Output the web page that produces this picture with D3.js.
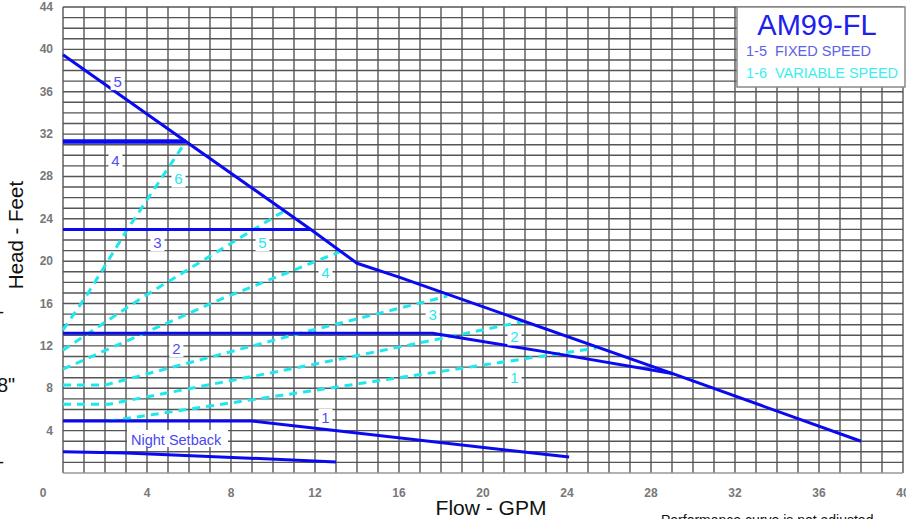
<!DOCTYPE html>
<html>
<head>
<meta charset="utf-8">
<script src="https://cdn.jsdelivr.net/npm/d3@7"></script>
<style>
  body { margin: 0; background: #fff; }
  svg text { font-family: "Liberation Sans", Arial, sans-serif; }
</style>
</head>
<body>
<svg id="chart" width="906" height="519"></svg>
<script>
// data (flow GPM, head ft)
let xTicks = [4, 8, 12, 16, 20, 24, 28, 32, 36, 40]
let yTicks = [4, 8, 12, 16, 20, 24, 28, 32, 36, 40, 44]

let fixedNames = ['5', '4', '3', '2', '1']
let fixed5 = [[0, 39.5], [5.85, 31.3], [11.8, 23], [14, 19.8], [16, 18.5], [29, 9.4], [38, 3]]
let fixed4 = [[0, 31.3], [5.85, 31.3]]
let fixed3 = [[0, 23], [11.8, 23]]
let fixed2 = [[0, 13.2], [17.6, 13.2], [23.7, 11.2], [29, 9.4]]
let fixed1 = [[0, 4.9], [9, 4.9], [24.1, 1.5]]
let nightSetback = [[0, 2], [3, 1.9], [13, 1.05]]

let varNames = ['6', '5', '4', '3', '2', '1']
let var6 = [[0, 13.5], [1.2, 17], [3, 22.8], [5.85, 31.3]]
let var5 = [[0, 11.6], [3.8, 16.6], [9, 22.9], [10.5, 24.7]]
let var4 = [[0, 9.8], [7.5, 16.4], [13.2, 20.9]]
let var3 = [[0, 8.3], [2, 8.3], [11.3, 13.2], [18.3, 16.7]]
let var2 = [[0, 6.5], [2.2, 6.5], [11.3, 10], [18.5, 12.9], [21.9, 14.3]]
let var1 = [[2.2, 4.9], [11.3, 7.6], [25.4, 11.8]]

// label anchor points (data units)
let fixedLabels = [[2.6, 37], [2.5, 29.5], [4.5, 21.8], [5.4, 11.8], [12.5, 5.2]]
let varLabels = [[5.5, 27.8], [9.5, 21.8], [12.5, 18.9], [17.6, 15], [21.5, 12.9], [21.5, 9]]

let svg = d3.select('#chart')
let m = {top: 7, left: 63, right: 3, bottom: 46}
let W = 906, H = 519

let x = d3.scaleLinear().domain([0, 40]).range([m.left, W - m.right])
let y = d3.scaleLinear().domain([0, 44]).range([H - m.bottom, m.top])

// grid every 1 unit
let grid = svg.append('g')
grid.selectAll('.vx').data(d3.range(0, 41))
    .enter().append('line')
    .attr('x1', d => x(d)).attr('x2', d => x(d))
    .attr('y1', y(0)).attr('y2', y(44))
    .attr('stroke', '#555').attr('stroke-width', 1.4)
grid.selectAll('.hy').data(d3.range(0, 45))
    .enter().append('line')
    .attr('x1', x(0)).attr('x2', x(40))
    .attr('y1', d => y(d)).attr('y2', d => y(d))
    .attr('stroke', d => d == 0 ? '#999' : '#555').attr('stroke-width', 1.4)

// tick labels
svg.selectAll('.xt').data(xTicks)
    .enter().append('text')
    .attr('x', d => x(d)).attr('y', 497)
    .attr('text-anchor', 'middle')
    .attr('font-size', 12).attr('font-weight', 'bold').attr('fill', '#777')
    .text(d => d)
svg.append('text')
    .attr('x', x(0) - 20).attr('y', 497)
    .attr('text-anchor', 'middle')
    .attr('font-size', 12).attr('font-weight', 'bold').attr('fill', '#777')
    .text('0')
svg.selectAll('.yt').data(yTicks)
    .enter().append('text')
    .attr('x', 53).attr('y', d => y(d) + 4)
    .attr('text-anchor', 'end')
    .attr('font-size', 12).attr('font-weight', 'bold').attr('fill', '#777')
    .text(d => d)

// axis titles
svg.append('text')
    .attr('transform', 'translate(23, 235) rotate(-90)')
    .attr('text-anchor', 'middle').attr('font-size', 20.5).attr('fill', '#111')
    .text('Head - Feet')
svg.append('text')
    .attr('x', 491).attr('y', 515)
    .attr('text-anchor', 'middle').attr('font-size', 21).attr('fill', '#111')
    .text('Flow - GPM')
svg.append('text')
    .attr('x', 661).attr('y', 525)
    .attr('font-size', 14).attr('fill', '#111')
    .text('Performance curve is not adjusted')

// stray fragments at the left edge
svg.append('text').attr('x', -2).attr('y', 318).attr('font-size', 18).attr('fill', '#111').text('-')
svg.append('text').attr('x', -3).attr('y', 392).attr('font-size', 20).attr('fill', '#111').text('8"')
svg.append('text').attr('x', -2).attr('y', 468).attr('font-size', 18).attr('fill', '#111').text('-')

let line = d3.line().x(d => x(d[0])).y(d => y(d[1]))

// variable speed (dashed cyan)
let varCurves = [var6, var5, var4, var3, var2, var1]
svg.selectAll('.var').data(varCurves)
    .enter().append('path')
    .attr('d', line)
    .attr('fill', 'none').attr('stroke', '#1ee8ee')
    .attr('stroke-width', 3).attr('stroke-dasharray', '8,6')

// fixed speed (solid blue)
let fixedCurves = [fixed5, fixed4, fixed3, fixed2, fixed1, nightSetback]
svg.selectAll('.fix').data(fixedCurves)
    .enter().append('path')
    .attr('d', line)
    .attr('fill', 'none').attr('stroke', '#0a0af0')
    .attr('stroke-width', (d, i) => i == 1 ? 4.5 : 3)
    .attr('stroke-linejoin', 'round')

// curve numbers
function addLabel(pos, txt, color) {
    let g = svg.append('g')
    g.append('rect')
        .attr('x', x(pos[0]) - 7).attr('y', y(pos[1]) - 9)
        .attr('width', 14).attr('height', 18).attr('fill', '#fff')
    g.append('text')
        .attr('x', x(pos[0])).attr('y', y(pos[1]) + 5.5)
        .attr('text-anchor', 'middle').attr('font-size', 15).attr('fill', color)
        .text(txt)
}
fixedLabels.forEach((p, i) => addLabel(p, fixedNames[i], '#5050ee'))
varLabels.forEach((p, i) => addLabel(p, varNames[i], '#2ae6ee'))

// night setback label
svg.append('rect')
    .attr('x', 127).attr('y', 430).attr('width', 101).attr('height', 17).attr('fill', '#fff')
svg.append('text')
    .attr('x', 131).attr('y', 444.5)
    .attr('font-size', 14.5).attr('fill', '#4848ee')
    .text('Night Setback')

// legend box
let lg = svg.append('g')
lg.append('rect')
    .attr('x', 737).attr('y', 7).attr('width', 168).attr('height', 80)
    .attr('fill', '#fff').attr('stroke', '#888').attr('stroke-width', 1.5)
lg.append('text')
    .attr('x', 817).attr('y', 35).attr('text-anchor', 'middle')
    .attr('font-size', 29).attr('fill', '#2020ee')
    .text('AM99-FL')
lg.append('text')
    .attr('x', 746).attr('y', 56).attr('font-size', 14.5).attr('fill', '#6060e8')
    .attr('xml:space', 'preserve')
    .text('1-5  FIXED SPEED')
lg.append('text')
    .attr('x', 746).attr('y', 78).attr('font-size', 14.5).attr('fill', '#3ceeee')
    .attr('xml:space', 'preserve')
    .text('1-6  VARIABLE SPEED')
</script>
</body>
</html>
